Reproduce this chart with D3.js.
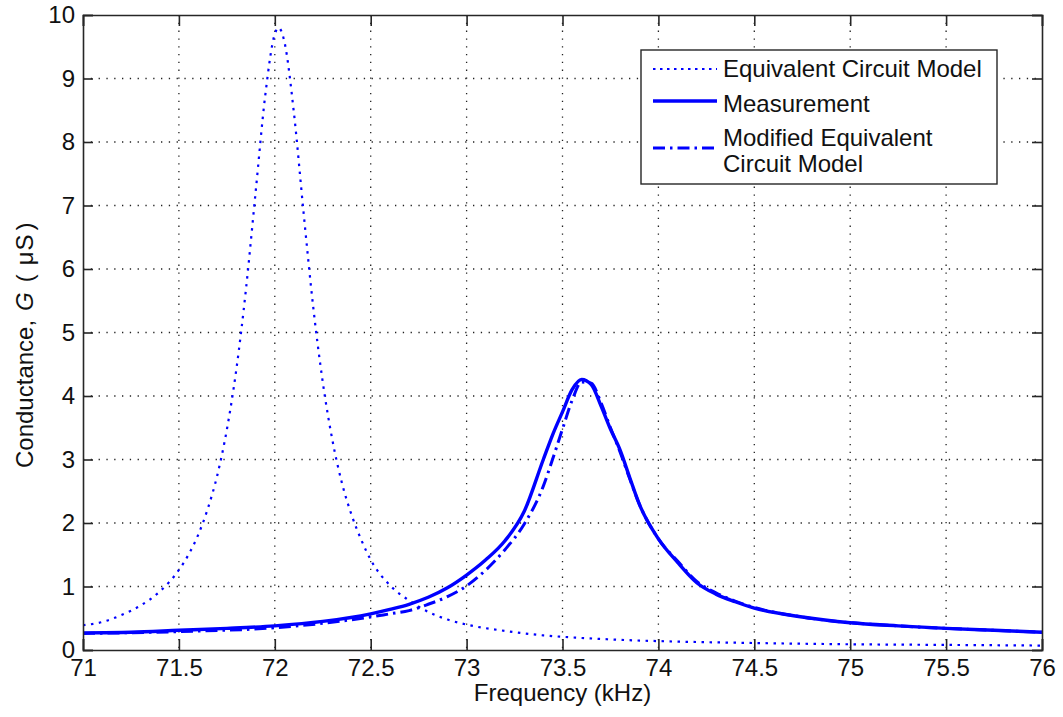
<!DOCTYPE html>
<html>
<head>
<meta charset="utf-8">
<script src="https://cdn.jsdelivr.net/npm/d3@7"></script>
<style>
  html, body { margin: 0; padding: 0; background: #fff; }
  svg { display: block; }
  text { font-family: "Liberation Sans", Arial, sans-serif; fill: #111; }
</style>
</head>
<body>
<svg id="chart" width="1063" height="717"></svg>
<script>
// ---- data ----
const xTicks = [71, 71.5, 72, 72.5, 73, 73.5, 74, 74.5, 75, 75.5, 76];
const xTickLabels = ["71", "71.5", "72", "72.5", "73", "73.5", "74", "74.5", "75", "75.5", "76"];
const yTicks = [0, 1, 2, 3, 4, 5, 6, 7, 8, 9, 10];
const yTickLabels = ["0", "1", "2", "3", "4", "5", "6", "7", "8", "9", "10"];

const seriesNames = ["Equivalent Circuit Model", "Measurement", "Modified Equivalent Circuit Model"];

// Equivalent Circuit Model (dotted)
const eqFreq = [71.00, 71.10, 71.20, 71.30, 71.40, 71.50, 71.55, 71.60, 71.65, 71.70, 71.75, 71.80, 71.85, 71.90, 71.95, 72.00, 72.02, 72.05, 72.10, 72.15, 72.20, 72.25, 72.30, 72.35, 72.40, 72.45, 72.50, 72.60, 72.70, 72.80, 72.90, 73.00, 73.20, 73.40, 73.60, 73.80, 74.00, 74.50, 75.00, 75.50, 76.00];
const eqG    = [0.39, 0.44, 0.55, 0.70, 0.92, 1.26, 1.50, 1.81, 2.22, 2.75, 3.47, 4.43, 5.69, 7.21, 8.73, 9.70, 9.80, 9.58, 8.45, 6.89, 5.41, 4.22, 3.31, 2.63, 2.13, 1.74, 1.42, 1.02, 0.78, 0.60, 0.48, 0.40, 0.30, 0.23, 0.19, 0.16, 0.14, 0.11, 0.09, 0.08, 0.07];

// Measurement (solid)
const measFreq = [71.00, 71.25, 71.50, 71.75, 72.00, 72.25, 72.50, 72.60, 72.70, 72.80, 72.90, 73.00, 73.10, 73.20, 73.30, 73.40, 73.45, 73.50, 73.55, 73.60, 73.65, 73.70, 73.75, 73.80, 73.85, 73.90, 74.00, 74.10, 74.20, 74.30, 74.40, 74.50, 74.75, 75.00, 75.25, 75.50, 75.75, 76.00];
const measG    = [0.27, 0.28, 0.31, 0.34, 0.38, 0.45, 0.57, 0.64, 0.72, 0.83, 0.98, 1.18, 1.42, 1.72, 2.18, 3.00, 3.40, 3.75, 4.10, 4.26, 4.18, 3.85, 3.48, 3.15, 2.72, 2.30, 1.75, 1.38, 1.06, 0.88, 0.76, 0.66, 0.52, 0.43, 0.38, 0.34, 0.31, 0.28];

// Modified Equivalent Circuit Model (dash-dot)
const modFreq = [71.00, 71.50, 72.00, 72.25, 72.50, 72.60, 72.70, 72.80, 72.90, 73.00, 73.10, 73.20, 73.30, 73.40, 73.45, 73.50, 73.55, 73.60, 73.65, 73.70, 73.75, 73.80, 73.85, 73.90, 74.00, 74.10, 74.20, 74.30, 74.40, 74.50, 74.75, 75.00, 75.25, 75.50, 75.75, 76.00];
const modG    = [0.26, 0.29, 0.35, 0.42, 0.52, 0.57, 0.62, 0.72, 0.84, 1.01, 1.26, 1.58, 1.98, 2.58, 3.02, 3.48, 3.93, 4.22, 4.20, 3.90, 3.50, 3.12, 2.70, 2.30, 1.75, 1.40, 1.08, 0.90, 0.77, 0.67, 0.52, 0.43, 0.38, 0.34, 0.31, 0.28];

// ---- layout ----
const svg = d3.select("#chart");
const m = { left: 83, right: 1042, top: 15, bottom: 650 };
const x = d3.scaleLinear().domain([71, 76]).range([m.left, m.right]);
const y = d3.scaleLinear().domain([0, 10]).range([m.bottom, m.top]);
const blue = "#0000ff";
const axisColor = "#262626";
const fontSize = 24;

// grid
const grid = svg.append("g");
grid.selectAll("line.gx").data(xTicks.slice(1, -1)).enter().append("line")
  .attr("x1", d => x(d)).attr("x2", d => x(d))
  .attr("y1", m.top).attr("y2", m.bottom)
  .attr("stroke", "#222").attr("stroke-width", 1.3)
  .attr("stroke-dasharray", "1.3,6.5");
grid.selectAll("line.gy").data(yTicks.slice(1, -1)).enter().append("line")
  .attr("x1", m.left).attr("x2", m.right)
  .attr("y1", d => y(d)).attr("y2", d => y(d))
  .attr("stroke", "#222").attr("stroke-width", 1.3)
  .attr("stroke-dasharray", "1.3,6.5");

// clip
svg.append("defs").append("clipPath").attr("id", "plotclip")
  .append("rect").attr("x", m.left).attr("y", m.top - 2)
  .attr("width", m.right - m.left).attr("height", m.bottom - m.top + 2);

const line = d3.line().x(d => x(d[0])).y(d => y(d[1])).curve(d3.curveMonotoneX);
const plot = svg.append("g").attr("clip-path", "url(#plotclip)");

plot.append("path").datum(d3.zip(eqFreq, eqG))
  .attr("d", line).attr("fill", "none").attr("stroke", blue)
  .attr("stroke-width", 2.2).attr("stroke-dasharray", "2.5,5.5");
plot.append("path").datum(d3.zip(measFreq, measG))
  .attr("d", line).attr("fill", "none").attr("stroke", blue)
  .attr("stroke-width", 3.4);
plot.append("path").datum(d3.zip(modFreq, modG))
  .attr("d", line).attr("fill", "none").attr("stroke", blue)
  .attr("stroke-width", 3).attr("stroke-dasharray", "12,5,2.5,5");

// axes box with inward ticks on all sides
const ax = svg.append("g");
const xb = d3.axisBottom(x).tickValues(xTicks).tickFormat((d, i) => xTickLabels[i]).tickSize(-11).tickPadding(9);
const xt = d3.axisTop(x).tickValues(xTicks).tickFormat("").tickSize(-11);
const yl = d3.axisLeft(y).tickValues(yTicks).tickFormat((d, i) => yTickLabels[i]).tickSize(-10).tickPadding(8);
const yr = d3.axisRight(y).tickValues(yTicks).tickFormat("").tickSize(-10);

const gxb = ax.append("g").attr("transform", `translate(0,${m.bottom})`).call(xb);
const gxt = ax.append("g").attr("transform", `translate(0,${m.top})`).call(xt);
const gyl = ax.append("g").attr("transform", `translate(${m.left},0)`).call(yl);
const gyr = ax.append("g").attr("transform", `translate(${m.right},0)`).call(yr);
[gxb, gxt, gyl, gyr].forEach(g => {
  g.select(".domain").attr("stroke", axisColor).attr("stroke-width", 1.6);
  g.selectAll(".tick line").attr("stroke", axisColor).attr("stroke-width", 1.6);
  g.selectAll("text").attr("font-size", fontSize).attr("font-family", "Liberation Sans, Arial, sans-serif").attr("fill", "#111");
});

// axis titles
svg.append("text").attr("x", (m.left + m.right) / 2).attr("y", 701)
  .attr("text-anchor", "middle").attr("font-size", fontSize).text("Frequency (kHz)");
const yt = svg.append("text")
  .attr("transform", `translate(33,468) rotate(-90)`)
  .attr("text-anchor", "start").attr("font-size", 24);
yt.append("tspan").text("Conductance,");
yt.append("tspan").attr("dx", 9).attr("font-style", "italic").text("G");
yt.append("tspan").attr("dx", 10).text("(");
yt.append("tspan").attr("dx", 9).text("μ");
yt.append("tspan").attr("dx", 1).text("S");
yt.append("tspan").attr("dx", 4).text(")");

// legend
const lg = svg.append("g");
lg.append("rect").attr("x", 641).attr("y", 50).attr("width", 356).attr("height", 134)
  .attr("fill", "#fff").attr("stroke", axisColor).attr("stroke-width", 1.4);
const samples = [
  { y: 69, dash: "2.5,4.5", w: 2.2 },
  { y: 101, dash: null, w: 3.4 },
  { y: 148, dash: "12,5,2.5,5", w: 3 }
];
samples.forEach(s => {
  const l = lg.append("line").attr("x1", 653).attr("x2", 717).attr("y1", s.y).attr("y2", s.y)
    .attr("stroke", blue).attr("stroke-width", s.w);
  if (s.dash) l.attr("stroke-dasharray", s.dash);
});
const legendLines = [
  { t: seriesNames[0], y: 77 },
  { t: seriesNames[1], y: 112 },
  { t: "Modified Equivalent", y: 146 },
  { t: "Circuit Model", y: 172 }
];
legendLines.forEach(L => {
  lg.append("text").attr("x", 723).attr("y", L.y).attr("font-size", fontSize).text(L.t);
});
</script>
</body>
</html>
